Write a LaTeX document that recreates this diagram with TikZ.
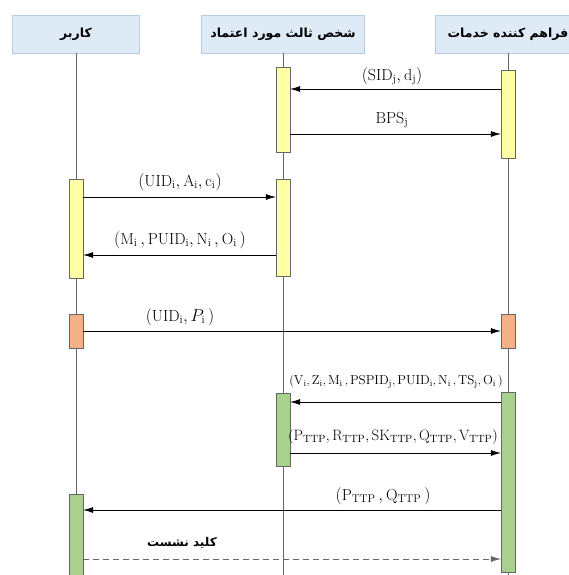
\documentclass[tikz,border=0pt]{standalone}
\usepackage{fontspec}
\usepackage{amsmath}
\usetikzlibrary{arrows.meta,positioning}
\newfontfamily\persianfont[Script=Arabic]{DejaVu Sans}
\TeXXeTstate=1
\definecolor{headblue}{HTML}{DEEBF7}
\definecolor{headline}{HTML}{B8CCE4}
\definecolor{actyellow}{HTML}{FFFFA6}
\definecolor{actorange}{HTML}{F4B183}
\definecolor{actgreen}{HTML}{A9D18E}
\definecolor{lifegray}{HTML}{666666}

\begin{document}
\begin{tikzpicture}[x=1pt, y=-1pt,
    head/.style={draw=headline, fill=headblue, minimum height=38, inner sep=0pt, font=\persianfont\bfseries\fontsize{12.5}{14}\selectfont},
    act/.style={draw=lifegray, minimum width=14, inner sep=0pt},
    life/.style={lifegray, line width=0.8pt},
    msg/.style={-{Latex[length=10pt,width=6pt]}, line width=0.6pt},
    lbl/.style={font=\fontsize{16}{18}\selectfont, inner sep=0pt}]
    \useasboundingbox (0,0) rectangle (569,575);

    % Participants
    \node[head, minimum width=127] (user) at (76,34) {\beginR کاربر\endR};
    \node[head, minimum width=163] (ttp) at (283,34) {\beginR شخص ثالث مورد اعتماد\endR};
    \node[head, minimum width=146] (sp) at (508,34) {\beginR فراهم کننده خدمات\endR};

    % Lifelines
    \draw[life] (user.south) -- (user.south |- 0,575);
    \draw[life] (ttp.south) -- (ttp.south |- 0,575);
    \draw[life] (sp.south) -- (sp.south |- 0,575);

    % Registration of the service provider
    \node[act, fill=actyellow, minimum height=85] (ttpA) at (283,109.5) {};
    \node[act, fill=actyellow, minimum height=88] (spA) at (508,114) {};
    \draw[msg] (spA.west |- 0,89) -- (ttpA.east |- 0,89);
    \node[lbl] (m1) at (392,76) {$(\mathrm{SID_j}, \mathrm{d_j})$};
    \draw[msg] (ttpA.east |- 0,134) -- (spA.west |- 0,134);
    \node[lbl] (m2) at (392,120) {$\mathrm{BPS_j}$};

    % Registration of the user
    \node[act, fill=actyellow, minimum height=99] (userB) at (76,228.5) {};
    \node[act, fill=actyellow, minimum height=97] (ttpB) at (283,227.5) {};
    \draw[msg] (userB.east |- 0,197) -- (ttpB.west |- 0,197);
    \node[lbl] (m3) at (180,182) {$(\mathrm{UID_i}, \mathrm{A_i}, \mathrm{c_i})$};
    \draw[msg] (ttpB.west |- 0,255) -- (userB.east |- 0,255);
    \node[lbl] (m4) at (180,240) {$(\mathrm{M_i}\,, \mathrm{PUID_i}, \mathrm{N_i}\,, \mathrm{O_i}\,)$};

    % Login request
    \node[act, fill=actorange, minimum height=34] (userC) at (76,331) {};
    \node[act, fill=actorange, minimum height=34] (spC) at (508,331) {};
    \draw[msg] (userC.east |- 0,331) -- (spC.west |- 0,331);
    \node[lbl] (m5) at (180,317) {$(\mathrm{UID_i}, P_{\mathrm{i}}\,)$};

    % Authentication and key agreement
    \node[act, fill=actgreen, minimum height=73] (ttpD) at (283,429.5) {};
    \node[act, fill=actgreen, minimum height=180] (spD) at (508,482) {};
    \draw[msg] (spD.west |- 0,402) -- (ttpD.east |- 0,402);
    \node[lbl, font=\fontsize{13}{15}\selectfont] (m6) at (396,382) {$(\mathrm{V_i}, \mathrm{Z_i}, \mathrm{M_i}\,, \mathrm{PSPID_j}, \mathrm{PUID_i}, \mathrm{N_i}\,, \mathrm{TS_j}, \mathrm{O_i}\,)$};
    \draw[msg] (ttpD.east |- 0,453) -- (spD.west |- 0,453);
    \node[lbl, font=\fontsize{15}{17}\selectfont] (m7) at (393,437) {$(\mathrm{P_{TTP}}, \mathrm{R_{TTP}}, \mathrm{SK_{TTP}}, \mathrm{Q_{TTP}}, \mathrm{V_{TTP}})$};

    \node[act, fill=actgreen, minimum height=96] (userE) at (76,542) {};
    \draw[msg] (spD.west |- 0,510) -- (userE.east |- 0,510);
    \node[lbl] (m8) at (383,496) {$(\mathrm{P_{TTP}}\,, \mathrm{Q_{TTP}}\,)$};

    % Session key
    \draw[msg, lifegray, dash pattern=on 6pt off 4pt] (userE.east |- 0,559) -- (spD.west |- 0,559);
    \node[lbl, font=\persianfont\bfseries\fontsize{12}{14}\selectfont] (m9) at (182,543) {\beginR کلید نشست\endR};
\end{tikzpicture}
\end{document}
